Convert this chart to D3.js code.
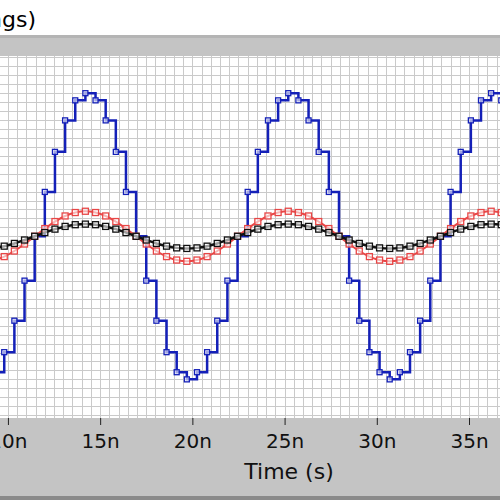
<!DOCTYPE html>
<html><head><meta charset="utf-8">
<script src="https://cdn.jsdelivr.net/npm/d3@7"></script>
<style>body{margin:0;background:#fff}svg{display:block}</style>
</head><body>
<svg id="chart" width="500" height="500"></svg>
<script>
// sample times (ns) and waveform values
var times = [9.25,9.8,10.35,10.9,11.45,12,12.55,13.1,13.65,14.2,14.75,15.3,15.85,16.4,16.95,17.5,18.05,18.6,19.15,19.7,
  20.25,20.8,21.35,21.9,22.45,23,23.55,24.1,24.65,25.2,25.75,26.3,26.85,27.4,27.95,28.5,29.05,29.6,30.15,30.7,
  31.25,31.8,32.35,32.9,33.45,34,34.55,35.1,35.65,36.2,36.75];
var blue = [-.95,-.81,-.59,-.31,0,.31,.59,.81,.95,1,.95,.81,.59,.31,0,-.31,-.59,-.81,-.95,-1,
  -.95,-.81,-.59,-.31,0,.31,.59,.81,.95,1,.95,.81,.59,.31,0,-.31,-.59,-.81,-.95,-1,
  -.95,-.81,-.59,-.31,0,.31,.59,.81,.95,1,.95];
var red = [-.166,-.142,-.103,-.054,0,.054,.103,.142,.166,.175,.166,.142,.103,.054,0,-.054,-.103,-.142,-.166,-.175,
  -.166,-.142,-.103,-.054,0,.054,.103,.142,.166,.175,.166,.142,.103,.054,0,-.054,-.103,-.142,-.166,-.175,
  -.166,-.142,-.103,-.054,0,.054,.103,.142,.166,.175,.166];
var black = [-.081,-.069,-.05,-.026,0,.026,.05,.069,.081,.085,.081,.069,.05,.026,0,-.026,-.05,-.069,-.081,-.085,
  -.081,-.069,-.05,-.026,0,.026,.05,.069,.081,.085,.081,.069,.05,.026,0,-.026,-.05,-.069,-.081,-.085,
  -.081,-.069,-.05,-.026,0,.026,.05,.069,.081,.085,.081];
var xTicks = [10,15,20,25,30,35];
var xTickLabels = ["10n","15n","20n","25n","30n","35n"];

var svg = d3.select("#chart");
var plotTop = 56, plotBottom = 418;

var x = d3.scaleLinear().domain([9.57, 36.68]).range([0, 500]);
var y = d3.scaleLinear().domain([-1.27, 1.26]).range([plotBottom, plotTop]);

// header band
svg.append("text").attr("x", 36).attr("y", 27).attr("text-anchor", "end")
  .style("font-family", "DejaVu Sans").style("font-size", "22px").text("Settings)");
svg.append("rect").attr("x", 0).attr("y", 35).attr("width", 500).attr("height", 21).attr("fill", "#c4c4c4");
svg.append("rect").attr("x", 0).attr("y", 35).attr("width", 500).attr("height", 3).attr("fill", "#b4b4b4");

// plot area + grid
svg.append("rect").attr("x", 0).attr("y", plotTop).attr("width", 500).attr("height", plotBottom - plotTop).attr("fill", "#fff");
var grid = svg.append("g").attr("stroke", "#cacaca").attr("stroke-width", 1);
grid.selectAll(".gx").data(d3.range(9.5, 37, 0.5)).enter().append("line")
  .attr("x1", d => Math.round(x(d)) + .5).attr("x2", d => Math.round(x(d)) + .5)
  .attr("y1", plotTop).attr("y2", plotBottom);
grid.selectAll(".gy").data(d3.range(-1.25, 1.26, 0.0625)).enter().append("line")
  .attr("y1", d => Math.round(y(d)) + .5).attr("y2", d => Math.round(y(d)) + .5)
  .attr("x1", 0).attr("x2", 500);

// bottom band
svg.append("rect").attr("x", 0).attr("y", plotBottom).attr("width", 500).attr("height", 82).attr("fill", "#c4c4c4");
svg.append("rect").attr("x", 0).attr("y", 496).attr("width", 500).attr("height", 4).attr("fill", "#8a8a8a");

var axis = svg.append("g").attr("transform", "translate(0," + plotBottom + ")")
  .call(d3.axisBottom(x).tickValues(xTicks).tickFormat((d, i) => xTickLabels[i]).tickSize(7).tickPadding(9));
axis.select(".domain").remove();
axis.selectAll("line").attr("stroke", "#222");
axis.selectAll("text").style("font-family", "DejaVu Sans").style("font-size", "20px").attr("fill", "#111");
svg.append("text").attr("x", 289).attr("y", 479).attr("text-anchor", "middle")
  .style("font-family", "DejaVu Sans").style("font-size", "22px").attr("fill", "#111").text("Time (s)");

// series
var plot = svg.append("g");
function series(vals, color, width, curve, msize) {
  var pts = times.map((t, i) => [t, vals[i]]);
  plot.append("path").datum(pts).attr("fill", "none").attr("stroke", color).attr("stroke-width", width)
    .attr("d", d3.line().x(d => x(d[0])).y(d => y(d[1])).curve(curve));
  plot.append("g").selectAll("rect").data(pts).enter().append("rect")
    .attr("x", d => x(d[0]) - msize / 2).attr("y", d => y(d[1]) - msize / 2)
    .attr("width", msize).attr("height", msize)
    .attr("fill", "#fff").attr("fill-opacity", 0.6).attr("stroke", color).attr("stroke-width", 1.3);
}
series(blue, "#1420b8", 2.5, d3.curveStepAfter, 5);
series(red, "#e84646", 2, d3.curveMonotoneX, 6);
series(black, "#111", 2.5, d3.curveMonotoneX, 6);
</script>
</body></html>
